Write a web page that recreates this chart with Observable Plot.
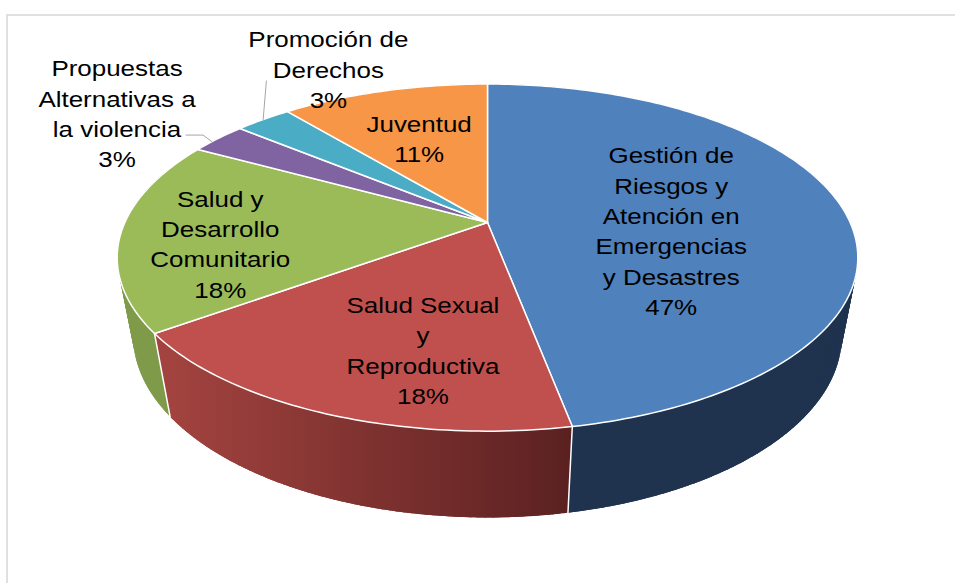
<!DOCTYPE html>
<html><head><meta charset="utf-8">
<script src="https://cdn.jsdelivr.net/npm/d3@7"></script>
<script src="https://cdn.jsdelivr.net/npm/@observablehq/plot@0.6"></script>
<style>
body{margin:0;background:#fff;}
#wrap{position:relative;width:955px;height:583px;overflow:hidden;background:#fff;}
#frame{position:absolute;left:6px;top:14px;width:1200px;height:900px;border-top:2px solid #e0e0e0;border-left:2px solid #e0e0e0;pointer-events:none;}
</style></head><body>
<div id="wrap"><div id="chart"></div><div id="frame"></div></div>
<script>
// ---- data ----
const categories = [
  "Gestión de\nRiesgos y\nAtención en\nEmergencias\ny Desastres",
  "Salud Sexual\ny\nReproductiva",
  "Salud y\nDesarrollo\nComunitario",
  "Propuestas\nAlternativas a\nla violencia",
  "Promoción de\nDerechos",
  "Juventud"
];
const values = [47, 18, 18, 3, 3, 11];
const topColors  = ["#4f81bd", "#c0504d", "#9bbb59", "#8064a2", "#4bacc6", "#f79646"];
const sideColors = ["#1f334f", "url(#redSide)", "#7f9b4a", "#5b4775", "#33798c", "#b86d30"];
// label placement in pie polar coords (radius fraction, angle in degrees clockwise from top)
const labelRadius = [0.504, 0.676, 0.729, 1.407, 1.264, 0.609];
const labelAngle  = [94.8, 193.2, 260.7, 303, 334.7, 339.8];

// ---- 3D perspective model of the pie ----
const P = {cx: 487, cy: 222, f: 1592, D: 4.39, s: 0.459, c: 0.888, a: 0.225, b: 0.19};
function proj(r, deg, bottom = false) {
  const t = deg * Math.PI / 180;
  const u = r * Math.sin(t), v = -r * Math.cos(t);
  const Y = v * P.s + (bottom ? P.a : 0);
  const Z = P.D - v * P.c + (bottom ? P.b : 0);
  return {x: P.cx + P.f * u / Z, y: P.cy + P.f * Y / Z, z: Z};
}

const arcs = d3.pie().sort(null).startAngle(0).endAngle(2 * Math.PI)(values)
  .map((a, i) => ({i, a0: a.startAngle * 180 / Math.PI, a1: a.endAngle * 180 / Math.PI}));

// side quads (overlapping within a slice to avoid seams)
const quads = [];
arcs.forEach(({i, a0, a1}) => {
  const n = Math.max(2, Math.ceil((a1 - a0) / 1));
  const step = (a1 - a0) / n;
  for (let k = 0; k < n; k++) {
    const t0 = a0 + step * k;
    const t1 = Math.min(a1, t0 + step * 2.2);
    const ts = d3.range(0, 5).map(j => t0 + (t1 - t0) * j / 4);
    const pts = [...ts.map(t => proj(1, t)), ...ts.slice().reverse().map(t => proj(1, t, true))];
    quads.push({i, z: proj(1, t0 + step / 2).z, pts});
  }
});
quads.sort((p, q) => q.z - p.z);
const sidePts = [];
quads.forEach((q, qi) => q.pts.forEach(p => sidePts.push({q: qi, x: p.x, y: p.y, fill: sideColors[q.i]})));

// top slices
const topPts = [];
arcs.forEach(({i, a0, a1}) => {
  const apex = proj(0, 0);
  topPts.push({k: i, x: apex.x, y: apex.y, fill: topColors[i]});
  const n = Math.max(4, Math.ceil(a1 - a0));
  for (let k = 0; k <= n; k++) {
    const p = proj(1, a0 + (a1 - a0) * k / n);
    topPts.push({k: i, x: p.x, y: p.y, fill: topColors[i]});
  }
  topPts.push({k: i, x: apex.x, y: apex.y, fill: topColors[i]});
});

// visible slice boundaries on the side (between silhouettes)
const silh = Math.acos(-P.c / P.D) * 180 / Math.PI;
const edgePts = [];
arcs.forEach(({i, a0}) => {
  if (a0 > silh && a0 < 360 - silh) {
    const p = proj(1, a0), q = proj(1, a0, true);
    edgePts.push({k: i, x: p.x, y: p.y}, {k: i, x: q.x, y: q.y});
  }
});

// labels
const labels = arcs.map(({i}) => {
  const p = proj(labelRadius[i], labelAngle[i]);
  return {x: p.x, y: p.y, text: categories[i] + "\n" + values[i] + "%"};
});

// leader lines for outside labels
const leaderPts = [];
{
  const L = labels[3], pa = arcs[3];
  const e = proj(1, pa.a0 + 0.35 * (pa.a1 - pa.a0));
  leaderPts.push({k: 3, x: L.x + 69, y: L.y + 23}, {k: 3, x: L.x + 86, y: L.y + 23}, {k: 3, x: e.x, y: e.y});
  const T = labels[4], ta = arcs[4];
  const e2 = proj(1, (ta.a0 + ta.a1) / 2);
  leaderPts.push({k: 4, x: T.x - 62, y: T.y + 13}, {k: 4, x: e2.x, y: e2.y});
}

const red = arcs[1];
const gx1 = proj(1, red.a1, true).x, gx2 = proj(1, red.a0, true).x;

const plot = Plot.plot({
  width: 955, height: 583, margin: 0,
  style: {background: "transparent"},
  x: {type: "linear", domain: [0, 955], range: [0, 955], axis: null},
  y: {type: "linear", domain: [0, 583], range: [0, 583], axis: null},
  color: {type: "identity"},
  marks: [
    Plot.line(sidePts, {x: "x", y: "y", z: "q", fill: "fill", stroke: "none"}),
    Plot.line(topPts, {x: "x", y: "y", z: "k", fill: "fill", stroke: "white", strokeWidth: 1.5}),
    Plot.line(edgePts, {x: "x", y: "y", z: "k", stroke: "white", strokeWidth: 1.5}),
    Plot.line(leaderPts, {x: "x", y: "y", z: "k", stroke: "#a6a6a6", strokeWidth: 1, strokeLinejoin: "miter"}),
    Plot.text(labels, {x: "x", y: "y", text: "text", fontSize: 22, fontFamily: "Liberation Sans, Arial, sans-serif", lineHeight: 1.38, fill: "black"})
  ]
});

const svg = d3.select(plot);
const grad = svg.insert("defs", ":first-child").append("linearGradient")
  .attr("id", "redSide").attr("gradientUnits", "userSpaceOnUse")
  .attr("x1", gx1).attr("x2", gx2).attr("y1", 0).attr("y2", 0);
grad.append("stop").attr("offset", "0%").attr("stop-color", "#a2433f");
grad.append("stop").attr("offset", "100%").attr("stop-color", "#5b2121");

svg.selectAll('g[aria-label="text"] text').each(function () {
  const t = this.getAttribute("transform");
  if (t) this.setAttribute("transform", t + " scale(1.18,1)");
});

document.getElementById("chart").appendChild(plot);
</script>
</body></html>
